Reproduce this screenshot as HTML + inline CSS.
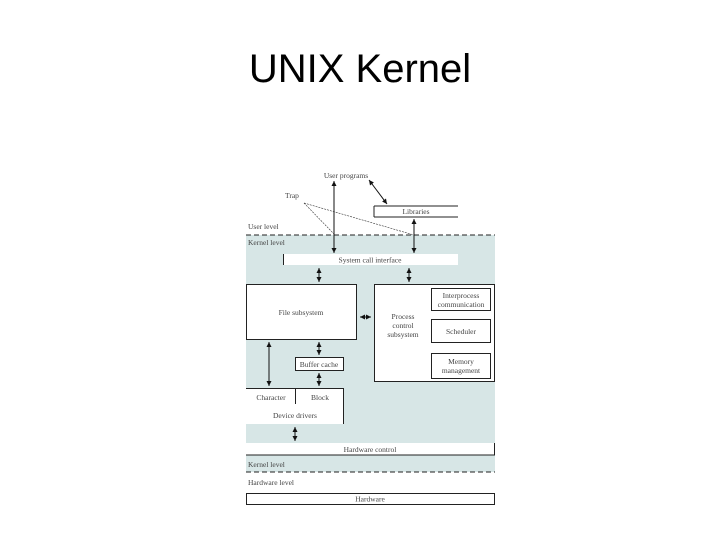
<!DOCTYPE html>
<html><head><meta charset="utf-8"><style>
html,body{margin:0;padding:0;background:#fff;width:720px;height:540px;overflow:hidden}
</style></head><body>
<svg width="720" height="540" xmlns="http://www.w3.org/2000/svg" style="position:absolute;left:0;top:0">
<defs>
<marker id="a" markerWidth="6" markerHeight="6" refX="5" refY="3" orient="auto-start-reverse" markerUnits="userSpaceOnUse"><path d="M0,0.5 L5,3 L0,5.5 z" fill="#111"/></marker>
</defs>
<text x="360" y="82" text-anchor="middle" font-family="Liberation Sans, sans-serif" font-size="40" fill="#000">UNIX Kernel</text>
<g font-family="Liberation Serif, serif" font-size="7.5" fill="#444">
<!-- teal region -->
<rect x="246" y="235" width="249" height="237" fill="#d7e6e6"/>
<line x1="246" y1="235" x2="495" y2="235" stroke="#222" stroke-dasharray="5,3"/>
<line x1="246" y1="472" x2="495" y2="472" stroke="#222" stroke-dasharray="5,3"/>
<text x="346" y="178" text-anchor="middle">User programs</text>
<text x="285" y="198">Trap</text>
<text x="248" y="229">User level</text>
<text x="248" y="245">Kernel level</text>
<!-- libraries -->
<line x1="374" y1="206" x2="458" y2="206" stroke="#222"/>
<line x1="374" y1="217" x2="458" y2="217" stroke="#222"/>
<line x1="374" y1="206" x2="374" y2="217" stroke="#222"/>
<text x="416" y="214" text-anchor="middle">Libraries</text>
<!-- trap lines -->
<line x1="304" y1="203" x2="334" y2="234" stroke="#333" stroke-width="0.6" stroke-dasharray="2,1"/>
<line x1="304" y1="203" x2="414" y2="235" stroke="#333" stroke-width="0.6" stroke-dasharray="2,1"/>
<!-- arrows -->
<line x1="334" y1="181" x2="334" y2="253" stroke="#111" marker-start="url(#a)" marker-end="url(#a)"/>
<line x1="414" y1="219" x2="414" y2="253" stroke="#111" marker-start="url(#a)" marker-end="url(#a)"/>
<line x1="369" y1="180" x2="387" y2="204" stroke="#111" marker-start="url(#a)" marker-end="url(#a)"/>
<!-- system call interface -->
<rect x="283" y="254" width="175" height="11" fill="#fff"/>
<line x1="283.5" y1="254" x2="283.5" y2="265" stroke="#222"/>
<text x="370" y="262.5" text-anchor="middle">System call interface</text>
<line x1="319" y1="268" x2="319" y2="282" stroke="#111" marker-start="url(#a)" marker-end="url(#a)"/>
<line x1="409" y1="268" x2="409" y2="282" stroke="#111" marker-start="url(#a)" marker-end="url(#a)"/>
<!-- file subsystem -->
<rect x="246.5" y="284.5" width="110" height="55" fill="#fff" stroke="#222"/>
<text x="301" y="315" text-anchor="middle">File subsystem</text>
<line x1="360" y1="317" x2="371" y2="317" stroke="#111" marker-start="url(#a)" marker-end="url(#a)"/>
<!-- process control -->
<rect x="374.5" y="284.5" width="120" height="97" fill="#fff" stroke="#222"/>
<text x="403" y="319" text-anchor="middle">Process</text>
<text x="403" y="328" text-anchor="middle">control</text>
<text x="403" y="337" text-anchor="middle">subsystem</text>
<rect x="431.5" y="288.5" width="59" height="22" fill="#fff" stroke="#222"/>
<text x="461" y="298" text-anchor="middle">Interprocess</text>
<text x="461" y="307" text-anchor="middle">communication</text>
<rect x="431.5" y="319.5" width="59" height="23" fill="#fff" stroke="#222"/>
<text x="461" y="334" text-anchor="middle">Scheduler</text>
<rect x="431.5" y="353.5" width="59" height="25" fill="#fff" stroke="#222"/>
<text x="461" y="364" text-anchor="middle">Memory</text>
<text x="461" y="373" text-anchor="middle">management</text>
<!-- buffer cache -->
<line x1="269" y1="342" x2="269" y2="386" stroke="#111" marker-start="url(#a)" marker-end="url(#a)"/>
<line x1="319" y1="342" x2="319" y2="355" stroke="#111" marker-start="url(#a)" marker-end="url(#a)"/>
<rect x="295.5" y="357.5" width="48" height="13" fill="#fff" stroke="#222"/>
<text x="319" y="367" text-anchor="middle">Buffer cache</text>
<line x1="319" y1="373" x2="319" y2="386" stroke="#111" marker-start="url(#a)" marker-end="url(#a)"/>
<!-- device drivers -->
<rect x="246" y="388" width="98" height="36" fill="#fff"/>
<line x1="246" y1="388.5" x2="344" y2="388.5" stroke="#222"/>
<line x1="343.5" y1="388" x2="343.5" y2="424" stroke="#222"/>
<line x1="295.5" y1="388" x2="295.5" y2="404" stroke="#222"/>
<text x="271" y="400" text-anchor="middle">Character</text>
<text x="320" y="400" text-anchor="middle">Block</text>
<text x="295" y="418" text-anchor="middle">Device drivers</text>
<line x1="295" y1="427" x2="295" y2="441" stroke="#111" marker-start="url(#a)" marker-end="url(#a)"/>
<!-- hardware control -->
<rect x="246" y="443" width="249" height="12" fill="#fff"/>
<line x1="246" y1="455" x2="495" y2="455" stroke="#222"/>
<line x1="494.5" y1="443" x2="494.5" y2="455" stroke="#222"/>
<text x="370" y="452" text-anchor="middle">Hardware control</text>
<text x="248" y="467">Kernel level</text>
<text x="248" y="485">Hardware level</text>
<rect x="246.5" y="493.5" width="248" height="11" fill="#fff" stroke="#222"/>
<text x="370" y="501.5" text-anchor="middle">Hardware</text>
</g>
</svg>
</body></html>
